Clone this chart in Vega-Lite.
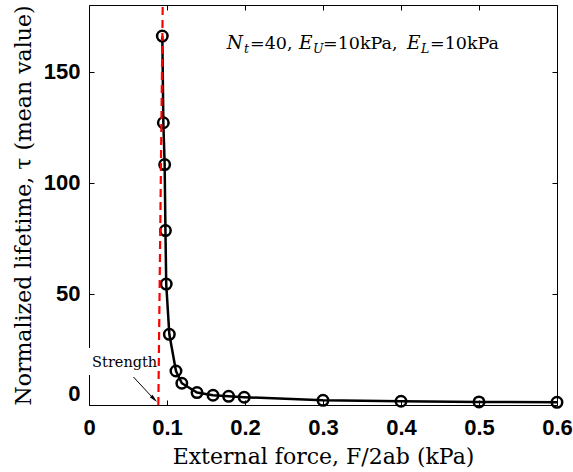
{
  "$schema": "https://vega.github.io/schema/vega-lite/v6.json",
  "width": 468,
  "height": 400,
  "autosize": {"type": "none"},
  "padding": {"left": 89, "top": 5, "right": 16, "bottom": 67},
  "background": "white",
  "config": {
    "view": {"stroke": "black", "strokeWidth": 1},
    "axis": {
      "domain": false, "grid": false, "tickColor": "black", "tickWidth": 1, "tickSize": -5,
      "labelFont": "Liberation Sans", "labelFontWeight": "bold", "labelFontSize": 22, "labelColor": "black",
      "titleFont": "DejaVu Serif", "titleFontWeight": "normal", "titleFontSize": 22, "titleColor": "black"
    }
  },
  "datasets": {
    "main": [
      {"x": 0.094, "y": 166}, {"x": 0.0953, "y": 127}, {"x": 0.097, "y": 108.2}, {"x": 0.098, "y": 78.5},
      {"x": 0.099, "y": 54.4}, {"x": 0.103, "y": 31.8}, {"x": 0.1115, "y": 15.3}, {"x": 0.119, "y": 9.8},
      {"x": 0.1385, "y": 5.6}, {"x": 0.159, "y": 4.4}, {"x": 0.179, "y": 3.9}, {"x": 0.199, "y": 3.5},
      {"x": 0.3, "y": 2.1}, {"x": 0.4, "y": 1.7}, {"x": 0.5, "y": 1.4}, {"x": 0.6, "y": 1.2}
    ],
    "strength": [{"x": 0.0945, "y": 180}, {"x": 0.0889, "y": 0}],
    "arrow": [{"x": 0.057, "y": 12.6}, {"x": 0.085, "y": 2.0}],
    "head": [{"x": 0.0835, "y": 2.7}],
    "label": [{"x": 0.004, "y": 17, "t": "Strength"}],
    "box": [{"x": -0.004, "x2": 0.0875, "y": 13.5, "y2": 25.7}],
    "ann": [
      {"x": 0.1765, "y": 160.1, "t": "N", "k": "it"},
      {"x": 0.2693, "y": 160.1, "t": "E", "k": "it"},
      {"x": 0.4077, "y": 160.1, "t": "E", "k": "it"},
      {"x": 0.1987, "y": 158.2, "t": "t", "k": "sub"},
      {"x": 0.2872, "y": 158.2, "t": "U", "k": "sub"},
      {"x": 0.4256, "y": 158.2, "t": "L", "k": "sub"},
      {"x": 0.2064, "y": 160.1, "t": "=40,", "k": "rm"},
      {"x": 0.3000, "y": 160.1, "t": "=10kPa,", "k": "rm"},
      {"x": 0.4372, "y": 160.1, "t": "=10kPa", "k": "rm"}
    ]
  },
  "layer": [
    {
      "data": {"name": "main"},
      "mark": {"type": "line", "color": "black", "strokeWidth": 2.5},
      "encoding": {
        "x": {"field": "x", "type": "quantitative", "scale": {"domain": [0, 0.6], "nice": false},
              "axis": {"orient": "bottom", "values": [0, 0.1, 0.2, 0.3, 0.4, 0.5, 0.6], "format": ".1~f", "labelFlush": false,
                       "labelPadding": 17, "title": "External force, F/2ab (kPa)", "titleX": 234, "titleY": 58, "titleBaseline": "alphabetic"}},
        "y": {"field": "y", "type": "quantitative", "scale": {"domain": [0, 180], "nice": false},
              "axis": {"orient": "left", "values": [0, 50, 100, 150], "labelFlush": true, "labelPadding": 14,
                       "title": "Normalized lifetime, τ (mean value)", "titleX": -59, "titleY": 200, "titleBaseline": "alphabetic"}}
      }
    },
    {
      "data": {"name": "main"},
      "mark": {"type": "point", "filled": false, "color": "black", "strokeWidth": 2.5, "size": 110, "opacity": 1},
      "encoding": {
        "x": {"field": "x", "type": "quantitative",
              "axis": {"orient": "top", "values": [0, 0.1, 0.2, 0.3, 0.4, 0.5, 0.6], "labels": false, "title": null}},
        "y": {"field": "y", "type": "quantitative",
              "axis": {"orient": "right", "values": [0, 50, 100, 150], "labels": false, "title": null}}
      }
    },
    {
      "data": {"name": "box"},
      "mark": {"type": "rect", "color": "white"},
      "encoding": {
        "x": {"field": "x", "type": "quantitative", "axis": null},
        "x2": {"field": "x2"},
        "y": {"field": "y", "type": "quantitative", "axis": null},
        "y2": {"field": "y2"}
      }
    },
    {
      "data": {"name": "strength"},
      "mark": {"type": "line", "color": "#ff0000", "strokeWidth": 2.2, "strokeDash": [8, 5]},
      "encoding": {
        "x": {"field": "x", "type": "quantitative", "axis": null},
        "y": {"field": "y", "type": "quantitative", "axis": null}
      }
    },
    {
      "data": {"name": "arrow"},
      "mark": {"type": "line", "color": "black", "strokeWidth": 1},
      "encoding": {
        "x": {"field": "x", "type": "quantitative", "axis": null},
        "y": {"field": "y", "type": "quantitative", "axis": null}
      }
    },
    {
      "data": {"name": "head"},
      "mark": {"type": "point", "filled": true, "color": "black", "opacity": 1, "shape": "M0,-1L0.45,1L-0.45,1Z", "size": 70, "angle": 136},
      "encoding": {
        "x": {"field": "x", "type": "quantitative", "axis": null},
        "y": {"field": "y", "type": "quantitative", "axis": null}
      }
    },
    {
      "data": {"name": "label"},
      "mark": {"type": "text", "align": "left", "baseline": "alphabetic", "font": "DejaVu Serif", "fontSize": 14.5, "color": "black"},
      "encoding": {
        "x": {"field": "x", "type": "quantitative", "axis": null},
        "y": {"field": "y", "type": "quantitative", "axis": null},
        "text": {"field": "t"}
      }
    },
    {
      "data": {"name": "ann"},
      "transform": [{"filter": "datum.k === 'it'"}],
      "mark": {"type": "text", "align": "left", "baseline": "alphabetic", "font": "DejaVu Serif", "fontStyle": "italic", "fontSize": 18.5, "color": "black"},
      "encoding": {
        "x": {"field": "x", "type": "quantitative", "axis": null},
        "y": {"field": "y", "type": "quantitative", "axis": null},
        "text": {"field": "t"}
      }
    },
    {
      "data": {"name": "ann"},
      "transform": [{"filter": "datum.k === 'sub'"}],
      "mark": {"type": "text", "align": "left", "baseline": "alphabetic", "font": "DejaVu Serif", "fontStyle": "italic", "fontSize": 12.5, "color": "black"},
      "encoding": {
        "x": {"field": "x", "type": "quantitative", "axis": null},
        "y": {"field": "y", "type": "quantitative", "axis": null},
        "text": {"field": "t"}
      }
    },
    {
      "data": {"name": "ann"},
      "transform": [{"filter": "datum.k === 'rm'"}],
      "mark": {"type": "text", "align": "left", "baseline": "alphabetic", "font": "DejaVu Serif", "fontSize": 17.5, "color": "black"},
      "encoding": {
        "x": {"field": "x", "type": "quantitative", "axis": null},
        "y": {"field": "y", "type": "quantitative", "axis": null},
        "text": {"field": "t"}
      }
    }
  ],
  "resolve": {"axis": {"x": "independent", "y": "independent"}}
}
